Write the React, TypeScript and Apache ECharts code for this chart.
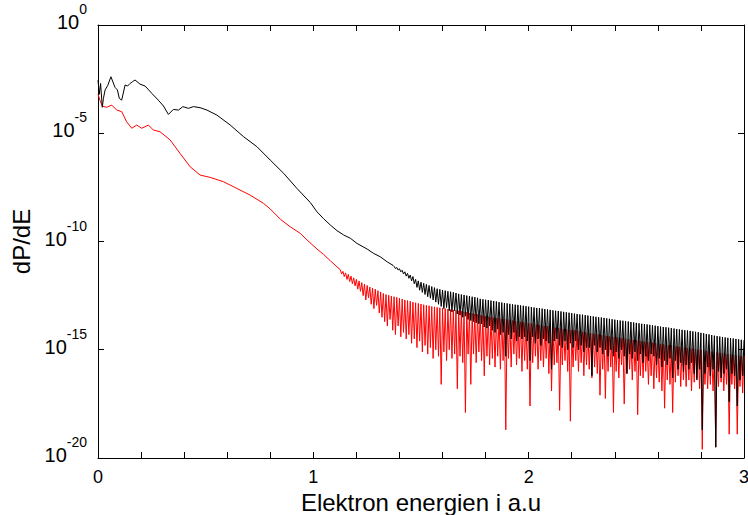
import React, { useEffect, useRef } from 'react';
import * as echarts from 'echarts';

// ---------- data (log10 of dP/dE) ----------
const xLabelValues = [0, 1, 2, 3];
const yTickExponents = [-20, -15, -10, -5, 0];

// smooth part of the black curve
const blackSmoothX = [0.0, 0.006, 0.012, 0.02, 0.025, 0.033, 0.045, 0.06, 0.079, 0.09, 0.099, 0.11, 0.126, 0.137, 0.149, 0.16, 0.172, 0.195, 0.219, 0.25, 0.28, 0.304, 0.327, 0.35, 0.374, 0.394, 0.42, 0.443, 0.474, 0.506, 0.552, 0.614, 0.676, 0.738, 0.8, 0.862, 0.924, 0.986, 1.017, 1.048, 1.079, 1.11, 1.141, 1.172, 1.203, 1.25, 1.28, 1.31, 1.343, 1.37];
const blackSmoothLog = [-2.55, -3.2, -2.7, -3.8, -3.4, -3.0, -2.8, -2.39, -2.88, -3.0, -3.39, -3.47, -2.77, -2.82, -2.7, -2.62, -2.54, -2.73, -2.82, -3.16, -3.47, -3.74, -4.13, -3.9, -3.93, -3.77, -3.85, -3.77, -3.82, -3.93, -4.16, -4.62, -5.16, -5.62, -6.24, -6.85, -7.55, -8.2, -8.63, -8.95, -9.24, -9.5, -9.7, -9.85, -10.09, -10.35, -10.55, -10.7, -10.94, -11.1];

// smooth part of the red curve
const redSmoothX = [0.0, 0.01, 0.02, 0.04, 0.064, 0.087, 0.11, 0.133, 0.157, 0.18, 0.203, 0.234, 0.257, 0.288, 0.335, 0.381, 0.428, 0.474, 0.521, 0.583, 0.645, 0.707, 0.769, 0.8, 0.85, 0.893, 0.94, 0.971, 1.017, 1.048, 1.08, 1.11];
const redSmoothLog = [-3.2, -3.5, -3.75, -3.8, -3.7, -3.93, -4.0, -4.47, -4.77, -4.62, -4.77, -4.62, -4.85, -4.93, -5.31, -5.93, -6.55, -6.93, -7.04, -7.24, -7.55, -7.86, -8.24, -8.5, -9.0, -9.32, -9.63, -9.93, -10.35, -10.6, -10.9, -11.17];

// oscillating part, sampled every 0.00625 in energy (peak, dip, peak, dip, ...)
const RIPPLE_STEP = 0.00625;

const redRippleStart = 1.125;
const redRippleA = [
  -11.3, -11.5, -11.38, -11.62, -11.45, -11.75, -11.52, -11.85, -11.6, -11.95, -11.68, -12.05, -11.75, -12.2, -11.82, -12.3,
  -11.9, -12.5, -11.97, -12.7, -12.03, -12.6, -12.1, -12.9, -12.15, -13.1, -12.2, -12.95, -12.27, -13.3, -12.33, -13.5,
  -12.4, -13.7, -12.45, -13.9, -12.48, -13.6, -12.52, -14.1, -12.55, -14.3, -12.58, -13.9, -12.62, -14.4, -12.66, -14.2,
  -12.7, -14.5, -12.73, -14.3, -12.76, -14.7, -12.8, -14.5, -12.83, -14.9, -12.86, -14.6, -12.89, -15.1, -12.92, -14.8,
  -12.95, -15.2, -12.97, -14.9, -13.0, -15.4, -13.02, -15.0, -13.04, -15.3, -13.06, -16.6, -13.08, -15.1, -13.1, -15.5,
  -13.12, -15.0, -13.14, -15.4, -13.16, -15.2, -13.18, -16.8, -13.2, -15.3, -13.22, -15.6, -13.24, -17.9, -13.26, -15.2,
];
const redRippleB = [
  -13.3, -16.6, -13.32, -15.2, -13.35, -15.6, -13.37, -15.1, -13.4, -15.5, -13.42, -16.2, -13.45, -15.3, -13.47, -15.7,
  -13.5, -15.4, -13.52, -15.8, -13.53, -15.3, -13.55, -15.9, -13.57, -15.5, -13.58, -18.7, -13.6, -15.4, -13.62, -15.8,
  -13.65, -15.2, -13.67, -15.7, -13.69, -15.4, -13.71, -16.0, -13.73, -15.5, -13.75, -15.9, -13.77, -17.6, -13.79, -15.6,
  -13.82, -15.3, -13.84, -15.9, -13.86, -15.5, -13.88, -15.8, -13.9, -15.4, -13.92, -16.1, -13.94, -16.9, -13.96, -15.7,
  -13.98, -15.6, -14.0, -17.8, -14.02, -15.7, -14.04, -15.5, -14.06, -16.0, -14.07, -18.3, -14.09, -15.8, -14.1, -15.5,
  -14.12, -16.0, -14.14, -15.6, -14.17, -16.2, -14.19, -15.7, -14.21, -15.9, -14.23, -16.3, -14.25, -15.8, -14.28, -16.1,
];
const redRippleC = [
  -14.3, -17.1, -14.32, -15.9, -14.34, -17.25, -14.36, -16.0, -14.38, -15.8, -14.4, -17.9, -14.41, -16.0, -14.43, -16.3,
  -14.45, -15.7, -14.47, -17.5, -14.49, -16.1, -14.51, -15.9, -14.53, -16.4, -14.55, -16.0, -14.56, -18.0, -14.58, -16.2,
  -14.6, -16.3, -14.62, -16.0, -14.64, -16.6, -14.65, -16.2, -14.67, -16.8, -14.69, -16.3, -14.71, -16.5, -14.73, -16.9,
  -14.75, -17.7, -14.77, -16.4, -14.79, -16.6, -14.8, -17.9, -14.82, -16.5, -14.84, -16.2, -14.86, -16.7, -14.88, -16.4,
  -14.9, -16.7, -14.92, -16.4, -14.94, -16.9, -14.95, -16.5, -14.97, -16.3, -14.99, -16.8, -15.01, -19.6, -15.03, -16.6,
  -15.05, -16.8, -15.07, -16.6, -15.09, -16.9, -15.1, -19.5, -15.12, -16.7, -15.14, -16.5, -15.16, -16.9, -15.18, -16.6,
  -15.2, -18.9, -15.22, -16.6, -15.24, -16.8, -15.25, -18.9, -15.27, -16.7, -15.29, -17.0, -15.3,
];

const blackRippleStart = 1.375;
const blackRippleA = [
  -11.15, -11.25, -11.2, -11.32, -11.26, -11.4, -11.33, -11.5, -11.4, -11.6, -11.47, -11.7, -11.55, -11.82, -11.62, -11.95,
  -11.75, -12.12, -11.82, -12.25, -11.88, -12.35, -11.93, -12.45, -11.98, -12.55, -12.03, -12.62, -12.08, -12.7, -12.13, -12.8,
  -12.18, -12.9, -12.21, -13.0, -12.24, -13.1, -12.27, -13.05, -12.3, -13.2, -12.32, -13.25, -12.35, -13.2, -12.38, -13.35,
  -12.42, -13.4, -12.45, -13.5, -12.47, -13.45, -12.5, -13.6, -12.52, -13.65, -12.55, -13.7, -12.57, -13.75, -12.6, -13.8,
  -12.65, -13.8, -12.67, -13.95, -12.69, -14.0, -12.71, -13.9, -12.73, -14.1, -12.75, -14.2, -12.77, -14.05, -12.8, -14.3,
];
const blackRippleB = [
  -12.82, -14.2, -12.84, -15.3, -12.86, -14.3, -12.88, -14.5, -12.9, -14.2, -12.92, -14.6, -12.93, -14.4, -12.95, -14.5,
  -12.97, -14.4, -12.99, -14.6, -13.01, -15.5, -13.03, -14.4, -13.05, -14.7, -13.07, -14.5, -13.08, -14.8, -13.1, -14.5,
  -13.12, -14.6, -13.14, -14.7, -13.16, -15.9, -13.18, -14.6, -13.2, -14.5, -13.21, -14.8, -13.23, -14.9, -13.25, -14.6,
  -13.27, -15.0, -13.29, -14.7, -13.31, -14.9, -13.33, -14.6, -13.35, -15.0, -13.37, -14.8, -13.38, -15.1, -13.4, -14.9,
  -13.42, -14.9, -13.44, -16.2, -13.46, -14.8, -13.48, -15.1, -13.5, -14.9, -13.51, -15.2, -13.53, -15.0, -13.55, -15.3,
  -13.57, -15.0, -13.59, -15.3, -13.61, -15.1, -13.63, -15.4, -13.65, -15.0, -13.66, -15.3, -13.68, -16.1, -13.7, -15.2,
];
const blackRippleC = [
  -13.72, -15.4, -13.74, -15.1, -13.76, -15.5, -13.78, -15.2, -13.8, -15.6, -13.81, -15.3, -13.83, -15.5, -13.85, -15.2,
  -13.87, -15.3, -13.89, -15.7, -13.91, -15.4, -13.93, -15.8, -13.95, -15.5, -13.96, -15.7, -13.98, -15.4, -14.0, -16.3,
  -14.02, -15.5, -14.04, -15.9, -14.06, -15.6, -14.08, -16.0, -14.1, -15.7, -14.11, -15.9, -14.13, -15.6, -14.15, -16.1,
  -14.17, -16.4, -14.19, -15.9, -14.22, -18.7, -14.24, -16.1, -14.27, -15.8, -14.29, -16.2, -14.32, -15.9, -14.35, -19.5,
  -14.37, -16.0, -14.39, -16.3, -14.41, -16.1, -14.43, -15.9, -14.45, -17.4, -14.46, -16.1, -14.48, -16.2, -14.5, -17.6,
  -14.52, -16.4, -14.54, -16.2, -14.56,
];

// ---------- helpers ----------
const FONT = '"Liberation Sans", Arial, Helvetica, sans-serif';

const smoothPoints = (xs: number[], logs: number[]) =>
  xs.map((x, i) => [x, Math.pow(10, logs[i])]);
const ripplePoints = (start: number, logs: number[]) =>
  logs.map((v, i) => [Math.round((start + i * RIPPLE_STEP) * 100000) / 100000, Math.pow(10, v)]);

const redRipple = [...redRippleA, ...redRippleB, ...redRippleC];
const blackRipple = [...blackRippleA, ...blackRippleB, ...blackRippleC];

const redData = [
  ...smoothPoints(redSmoothX, redSmoothLog),
  ...ripplePoints(redRippleStart, redRipple),
];
const blackData = [
  ...smoothPoints(blackSmoothX, blackSmoothLog),
  ...ripplePoints(blackRippleStart, blackRipple),
];

const xLabelFormatter = (v: number) => {
  const hit = xLabelValues.find((t) => Math.abs(t - v) < 1e-6);
  return hit === undefined ? '' : String(hit);
};
const yLabelFormatter = (v: number) => {
  const e = Math.round(Math.log10(v));
  return yTickExponents.includes(e) ? `{b|10}{s|${e}}` : '';
};

const axisLine = { show: true, onZero: false, lineStyle: { color: '#000', width: 1 } };
const axisTick = { show: true, inside: true, length: 6, lineStyle: { color: '#000', width: 1 } };

const option: any = {
  animation: false,
  backgroundColor: '#fff',
  grid: { left: 98, right: 4, top: 25, bottom: 57, containLabel: false, outerBoundsMode: 'none' },
  xAxis: [
    {
      type: 'value', position: 'bottom', min: 0, max: 3, interval: 0.2,
      axisLine, axisTick,
      splitLine: { show: false },
      axisLabel: { formatter: xLabelFormatter, color: '#000', fontSize: 18, fontFamily: FONT, margin: 10, showMaxLabel: true, showMinLabel: true },
      name: 'Elektron energien i a.u', nameLocation: 'middle', nameGap: 28,
      nameTextStyle: { fontSize: 24, color: '#000', fontFamily: FONT },
    },
    {
      type: 'value', position: 'top', min: 0, max: 3, interval: 0.2,
      axisLine, axisTick, splitLine: { show: false }, axisLabel: { show: false },
    },
  ],
  yAxis: [
    {
      type: 'log', logBase: 10, position: 'left', min: 1e-20, max: 1, interval: 5, splitNumber: 4,
      axisLine, axisTick,
      splitLine: { show: false }, minorTick: { show: false },
      axisLabel: {
        formatter: yLabelFormatter, margin: 11, padding: [0, 0, 8, 0],
        rich: {
          b: { fontSize: 20, fontFamily: FONT, color: '#000', lineHeight: 22, verticalAlign: 'bottom' },
          s: { fontSize: 14, fontFamily: FONT, color: '#000', lineHeight: 14, verticalAlign: 'bottom', padding: [0, 0, 16, 0] },
        },
      },
      name: 'dP/dE', nameLocation: 'middle', nameGap: 53, nameRotate: 90,
      nameTextStyle: { fontSize: 24, color: '#000', fontFamily: FONT },
    },
    {
      type: 'log', logBase: 10, position: 'right', min: 1e-20, max: 1, interval: 5, splitNumber: 4,
      axisLine, axisTick, splitLine: { show: false }, axisLabel: { show: false },
    },
  ],
  series: [
    {
      name: 'red', type: 'line', xAxisIndex: 0, yAxisIndex: 0, data: redData,
      showSymbol: false, symbol: 'none', clip: true,
      lineStyle: { color: '#ff0000', width: 1 }, itemStyle: { color: '#ff0000' },
    },
    {
      name: 'black', type: 'line', xAxisIndex: 0, yAxisIndex: 0, data: blackData,
      showSymbol: false, symbol: 'none', clip: true,
      lineStyle: { color: '#000000', width: 1 }, itemStyle: { color: '#000000' },
    },
  ],
};

export default function App() {
  const ref = useRef<HTMLDivElement>(null);
  useEffect(() => {
    document.body.style.margin = '0';
    const chart = echarts.init(ref.current as HTMLDivElement, null, { renderer: 'svg' });
    chart.setOption(option);
    return () => chart.dispose();
  }, []);
  return <div ref={ref} style={{ width: 748, height: 515, background: '#fff' }} />;
}
